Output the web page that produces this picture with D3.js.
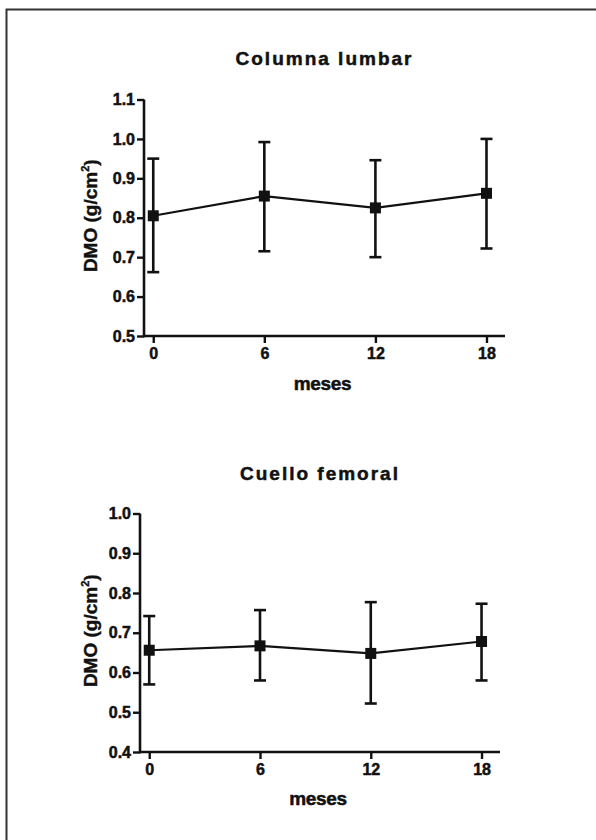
<!DOCTYPE html>
<html>
<head>
<meta charset="utf-8">
<title>DMO</title>
<script src="https://cdn.jsdelivr.net/npm/d3@7"></script>
<style>
  body { margin: 0; background: #fff; }
  text { font-family: "Liberation Sans", Arial, sans-serif; font-weight: bold; fill: #111; }
</style>
</head>
<body>
<svg id="mainsvg" width="596" height="840"></svg>
<script>
// months on the x axis
const months = [0, 6, 12, 18];
const xTicks = [0, 6, 12, 18];

// Columna lumbar
const lumbarMean = [0.805, 0.855, 0.825, 0.862];
const lumbarHigh = [0.950, 0.992, 0.946, 1.000];
const lumbarLow  = [0.662, 0.715, 0.700, 0.722];
const lumbarTicks = [0.5, 0.6, 0.7, 0.8, 0.9, 1.0, 1.1];

// Cuello femoral
const femoralMean = [0.656, 0.667, 0.648, 0.678];
const femoralHigh = [0.742, 0.757, 0.777, 0.773];
const femoralLow  = [0.570, 0.580, 0.522, 0.580];
const femoralTicks = [0.4, 0.5, 0.6, 0.7, 0.8, 0.9, 1.0];

const svg = d3.select('#mainsvg');

// frame: only top and left edges are visible
svg.append('path')
    .attr('d', 'M6.5,840 L6.5,9.5 L596,9.5')
    .attr('fill', 'none')
    .attr('stroke', '#333')
    .attr('stroke-width', 2);

function drawPanel(opts) {
    const {title, mean, high, low, yTicks, left, right, top, bottom, titleY, labelY, yLabelX} = opts;

    const x = d3.scaleLinear().domain([-0.5, 19]).range([left, right]);
    const y = d3.scaleLinear().domain([yTicks[0], yTicks[yTicks.length - 1]]).range([bottom, top]);

    const g = svg.append('g');

    // y axis
    const yAxis = g.append('g')
        .attr('transform', `translate(${left},0)`)
        .call(d3.axisLeft(y).tickValues(yTicks).tickFormat(d3.format('.1f')).tickSize(7).tickPadding(2));
    // x axis
    const xAxis = g.append('g')
        .attr('transform', `translate(0,${bottom})`)
        .call(d3.axisBottom(x).tickValues(xTicks).tickSize(7).tickPadding(5));

    [yAxis, xAxis].forEach(a => {
        a.select('.domain').attr('stroke', '#111').attr('stroke-width', 2.6)
            .attr('d', a === yAxis ? `M0,${bottom + 1.3}V${top}` : `M${left},0H${right}`);
        a.selectAll('.tick line').attr('stroke', '#111').attr('stroke-width', 2.4);
        a.selectAll('.tick text').style('font-size', '16px').attr('fill', '#111')
            .attr('stroke', '#111').attr('stroke-width', 0.5);
    });

    const pts = months.map((m, i) => ({m, v: mean[i], hi: high[i], lo: low[i]}));

    // error bars
    const eb = g.append('g').attr('stroke', '#111').attr('stroke-width', 2.6);
    eb.selectAll('line.v').data(pts).join('line').attr('class', 'v')
        .attr('x1', d => x(d.m)).attr('x2', d => x(d.m))
        .attr('y1', d => y(d.hi)).attr('y2', d => y(d.lo));
    eb.selectAll('line.hi').data(pts).join('line').attr('class', 'hi')
        .attr('x1', d => x(d.m) - 6).attr('x2', d => x(d.m) + 6)
        .attr('y1', d => y(d.hi)).attr('y2', d => y(d.hi));
    eb.selectAll('line.lo').data(pts).join('line').attr('class', 'lo')
        .attr('x1', d => x(d.m) - 6).attr('x2', d => x(d.m) + 6)
        .attr('y1', d => y(d.lo)).attr('y2', d => y(d.lo));

    // mean line
    g.append('path')
        .datum(pts)
        .attr('fill', 'none')
        .attr('stroke', '#111')
        .attr('stroke-width', 2.2)
        .attr('d', d3.line().x(d => x(d.m)).y(d => y(d.v)));

    // square markers
    g.selectAll('rect.mk').data(pts).join('rect').attr('class', 'mk')
        .attr('x', d => x(d.m) - 5.5).attr('y', d => y(d.v) - 5.5)
        .attr('width', 11).attr('height', 11)
        .attr('fill', '#111');

    // title
    g.append('text')
        .attr('x', (left + right) / 2).attr('y', titleY)
        .attr('text-anchor', 'middle')
        .attr('stroke', '#111').attr('stroke-width', 0.5)
        .style('font-size', '19px').style('letter-spacing', '2px')
        .text(title);

    // x label
    g.append('text')
        .attr('x', (left + right) / 2 - 2).attr('y', labelY)
        .attr('text-anchor', 'middle')
        .attr('stroke', '#111').attr('stroke-width', 0.5)
        .style('font-size', '19px').style('letter-spacing', '-0.3px')
        .text('meses');

    // y label
    const yl = g.append('text')
        .attr('transform', `translate(${yLabelX},${(top + bottom) / 2 - 2}) rotate(-90)`)
        .attr('text-anchor', 'middle')
        .attr('stroke', '#111').attr('stroke-width', 0.4)
        .style('font-size', '19px');
    yl.append('tspan').text('DMO (g/cm');
    yl.append('tspan').attr('dy', -8).style('font-size', '11px').text('2');
    yl.append('tspan').attr('dy', 8).text(')');
}

drawPanel({
    title: 'Columna lumbar',
    mean: lumbarMean, high: lumbarHigh, low: lumbarLow, yTicks: lumbarTicks,
    left: 144, right: 505, top: 99.5, bottom: 336,
    titleY: 65, labelY: 390, yLabelX: 97
});

drawPanel({
    title: 'Cuello femoral',
    mean: femoralMean, high: femoralHigh, low: femoralLow, yTicks: femoralTicks,
    left: 140, right: 500, top: 513.5, bottom: 752,
    titleY: 480, labelY: 805, yLabelX: 97
});
</script>
</body>
</html>
